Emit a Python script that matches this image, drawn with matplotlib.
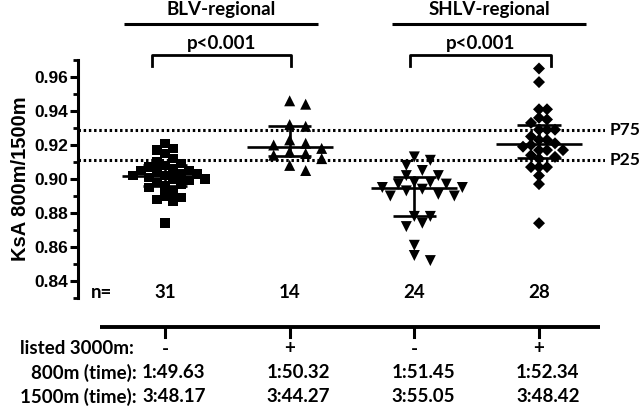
import numpy as np
import matplotlib
matplotlib.use("Agg")
import matplotlib.pyplot as plt
from matplotlib import transforms
from matplotlib.lines import Line2D

# ---- data ----
blv_unlisted = [0.921, 0.918, 0.917, 0.915, 0.912, 0.910, 0.909, 0.908, 0.907, 0.906,
                0.905, 0.905, 0.904, 0.903, 0.903, 0.902, 0.902, 0.901, 0.900, 0.900,
                0.899, 0.898, 0.897, 0.896, 0.895, 0.893, 0.890, 0.889, 0.888, 0.887, 0.874]
blv_listed = [0.946, 0.944, 0.932, 0.931, 0.923, 0.921, 0.920, 0.918, 0.916, 0.915,
              0.914, 0.912, 0.908, 0.905]
shlv_unlisted = [0.913, 0.911, 0.908, 0.905, 0.902, 0.902, 0.898, 0.898, 0.897, 0.897,
                 0.895, 0.895, 0.894, 0.893, 0.891, 0.890, 0.890, 0.878, 0.878, 0.874,
                 0.872, 0.861, 0.855, 0.852]
shlv_listed = [0.965, 0.957, 0.941, 0.941, 0.936, 0.935, 0.933, 0.929, 0.929, 0.929,
               0.925, 0.923, 0.923, 0.921, 0.920, 0.919, 0.917, 0.917, 0.917, 0.914,
               0.913, 0.912, 0.907, 0.907, 0.907, 0.902, 0.897, 0.874]

series = [blv_unlisted, blv_listed, shlv_unlisted, shlv_listed]
markers = ['s', '^', 'v', 'D']
marker_px = [9.5, 11, 11, 8.5]
n_labels = ['31', '14', '24', '28']
listed = ['-', '+', '-', '+']
time_800 = ['1:49.63', '1:50.32', '1:51.45', '1:52.34']
time_1500 = ['3:48.17', '3:44.27', '3:55.05', '3:48.42']
p75 = 0.929
p25 = 0.9113
titles = ['BLV-regional', 'SHLV-regional']
p_text = 'p<0.001'

W, H = 643, 407
fig = plt.figure(figsize=(W / 100, H / 100), dpi=100)

# axes placed in pixel terms
left_px, right_px, top_px, bot_px = 78, 605, 60, 298
ax = fig.add_axes([left_px / W, 1 - bot_px / H, (right_px - left_px) / W, (bot_px - top_px) / H])

gx = [165, 290, 414, 539]          # group centres in pixels
unit = (gx[3] - gx[0]) / 3.0
xmin = 1 - (gx[0] - left_px) / unit
xmax = 1 + (right_px - gx[0]) / unit
ax.set_xlim(xmin, xmax)
ax.set_ylim(0.83, 0.97)
px_per_y = (bot_px - top_px) / 0.14


def swarm(vals, size_px, step_px=8.0):
    # greedy dot-plot layout, offsets in pixels
    order = np.argsort(vals)[::-1]
    placed = []
    offs = np.zeros(len(vals))
    cands = [0]
    for k in range(1, 20):
        cands += [k * step_px, -k * step_px]
    for i in order:
        y = vals[i] * px_per_y
        for c in cands:
            ok = True
            for (px, py) in placed:
                if (px - c) ** 2 + (py - y) ** 2 < (size_px * 0.9) ** 2:
                    ok = False
                    break
            if ok:
                offs[i] = c
                placed.append((c, y))
                break
    return offs


for i, vals in enumerate(series):
    vals = np.array(vals)
    offs = swarm(vals, marker_px[i]) / unit
    x = (i + 1) + offs
    ax.scatter(x, vals, marker=markers[i], s=(marker_px[i] * 0.72) ** 2, c='black',
               edgecolors='none', zorder=3)
    med = np.median(vals)
    q1, q3 = np.percentile(vals, [25, 75], method='weibull')
    c = i + 1
    ax.plot([c - 0.345, c + 0.345], [med, med], color='black', lw=1.9, zorder=4,
            solid_capstyle='butt')
    ax.plot([c - 0.175, c + 0.175], [q1, q1], color='black', lw=1.9, zorder=4,
            solid_capstyle='butt')
    ax.plot([c - 0.175, c + 0.175], [q3, q3], color='black', lw=1.9, zorder=4,
            solid_capstyle='butt')
    ax.plot([c, c], [q1, q3], color='black', lw=1.9, zorder=4)

# percentile reference lines
for val, lab in [(p75, 'P75'), (p25, 'P25')]:
    ax.axhline(val, color='black', lw=2.2, ls=(0, (0.8, 0.9)), zorder=2)
    ax.text(xmax + 0.04, val, lab, ha='left', va='center', fontsize=12.5,
            fontweight='bold', family='Lato', clip_on=False)

# y axis styling (GraphPad-like)
num_font = ['Liberation Sans Narrow', 'Liberation Sans']
for s in ['top', 'right', 'bottom']:
    ax.spines[s].set_visible(False)
ax.spines['left'].set_linewidth(2.2)
ax.set_xticks([])
ax.set_yticks(np.arange(0.84, 0.961, 0.02))
ax.set_yticks(np.arange(0.83, 0.971, 0.01), minor=True)
ax.yaxis.set_major_formatter(matplotlib.ticker.FormatStrFormatter('%.2f'))
ax.tick_params(axis='y', which='major', length=6, width=2.2, labelsize=12.5, pad=1)
ax.tick_params(axis='y', which='minor', length=3.5, width=2.0)
for t in ax.get_yticklabels():
    t.set_fontweight('bold')
    t.set_family(num_font)
ax.set_ylabel('KsA 800m/1500m', fontsize=14.5, fontweight='bold', family='Liberation Sans',
              labelpad=3)

# text rows below / above the plot: x in data units, y in figure pixels
tr = transforms.blended_transform_factory(ax.transData, fig.transFigure)


def fy(py):
    return 1 - py / H


def fx(px):
    return xmin + (px - left_px) / unit


txt = dict(fontsize=13.5, fontweight='bold', family='Lato', transform=tr, clip_on=False)

ax.text(fx(101), fy(293), 'n=', ha='center', va='center', **txt)
for i in range(4):
    c = i + 1
    ax.text(c, fy(293), n_labels[i], ha='center', va='center', **txt)
    ax.text(c, fy(349), listed[i], ha='center', va='center', **txt)
    ax.text(c + 0.07, fy(373), time_800[i], ha='center', va='center', **txt)
    ax.text(c + 0.07, fy(397), time_1500[i], ha='center', va='center', **txt)
    fig.add_artist(Line2D([c, c], [fy(327), fy(337)], transform=tr, color='black', lw=2.2))

ax.text(fx(134), fy(349), 'listed 3000m:', ha='right', va='center', **txt)
ax.text(fx(137), fy(373), '800m (time):', ha='right', va='center', **txt)
ax.text(fx(137), fy(397), '1500m (time):', ha='right', va='center', **txt)
fig.add_artist(Line2D([fx(100), fx(600)], [fy(327), fy(327)], transform=tr, color='black',
                      lw=2.8, solid_capstyle='butt'))

# group headers and significance brackets
heads = [(124, 318), (392, 586)]
brackets = [(152, 291), (410, 551)]
for k in range(2):
    a, b = heads[k]
    fig.add_artist(Line2D([fx(a), fx(b)], [fy(24), fy(24)], transform=tr, color='black',
                          lw=2.2, solid_capstyle='butt'))
    ax.text(fx((a + b) / 2), fy(10), titles[k], ha='center', va='center', **txt)
    a, b = brackets[k]
    fig.add_artist(Line2D([fx(a), fx(a), fx(b), fx(b)], [fy(66), fy(55), fy(55), fy(66)],
                          transform=tr, color='black', lw=2.0))
    ax.text(fx((a + b) / 2), fy(43), p_text, ha='center', va='center', **txt)

fig.savefig('out.png', dpi=100)
